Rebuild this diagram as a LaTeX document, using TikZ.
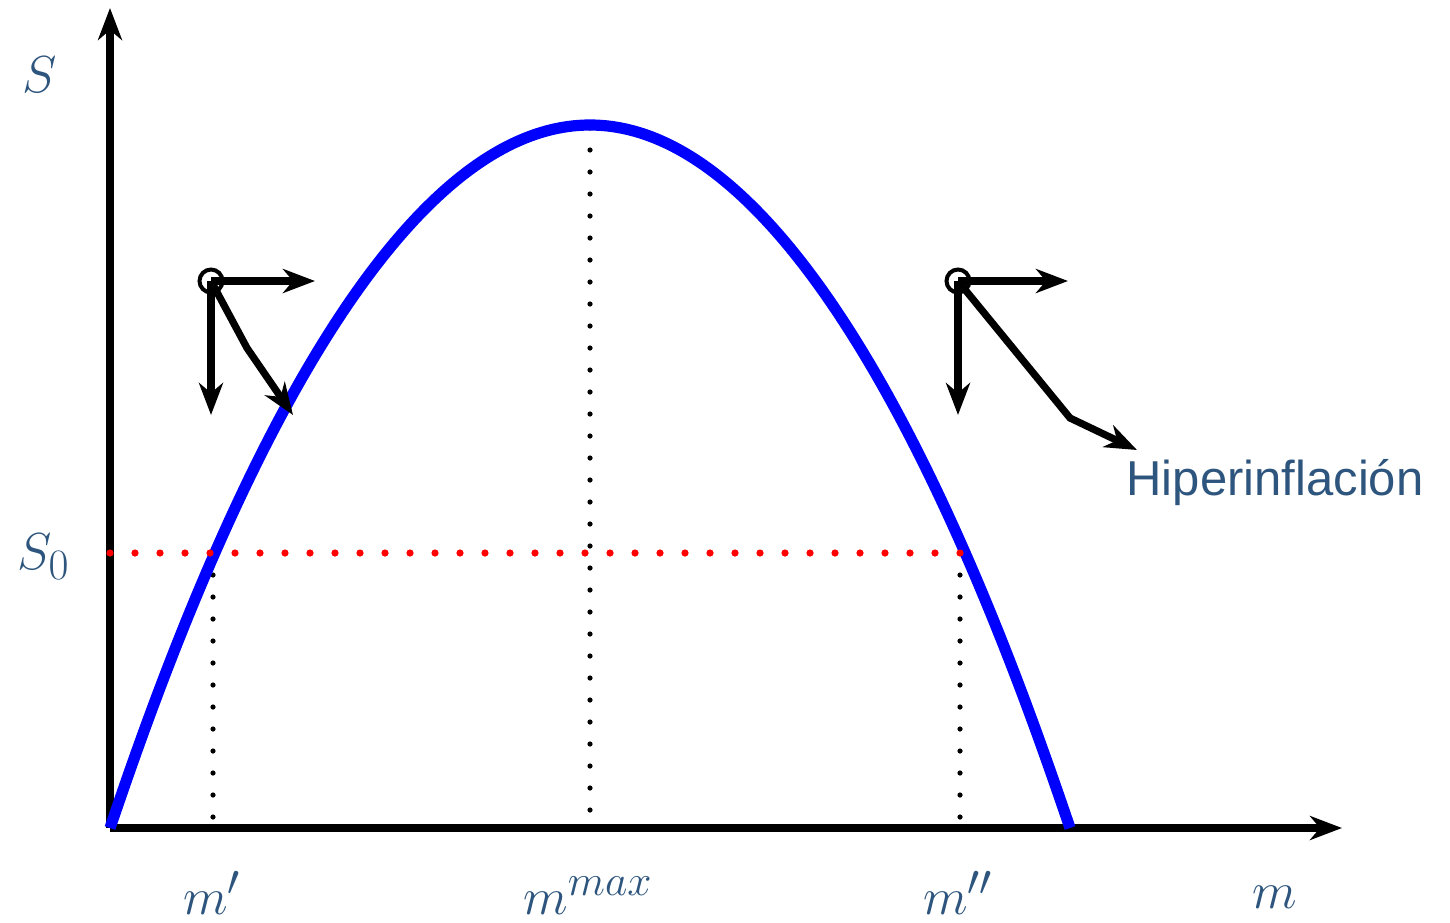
\documentclass[tikz,border=0pt]{standalone}
\usepackage{fontspec}
\newfontfamily\labfont{Liberation Sans}
\usetikzlibrary{arrows.meta}
\definecolor{labcol}{RGB}{45,85,125}
\tikzset{
  axisline/.style={line width=3.6pt,-{Stealth[length=16pt,width=12pt,inset=5pt]}},
  vecarrow/.style={line width=3.6pt,-{Stealth[length=16pt,width=12pt,inset=5pt]}},
  curveline/.style={blue,line width=5.6pt},
  blackdots/.style={line width=2.6pt,line cap=round,dash pattern=on 0pt off 11pt},
  reddots/.style={red,line width=3.6pt,line cap=round,dash pattern=on 0pt off 12.5pt},
  marker/.style={circle,draw,line width=2pt,minimum size=11.5pt,inner sep=0pt},
  mathlab/.style={text=labcol,inner sep=0pt,font=\fontsize{24.88}{30}\selectfont},
  textlab/.style={text=labcol,font=\labfont\fontsize{24.5}{28}\selectfont}
}
\newcommand{\scaledmath}[1]{\scalebox{1.045}{$#1$}}
\begin{document}
\begin{tikzpicture}[x=0.5pt,y=-0.5pt]
\useasboundingbox (0,0) rectangle (1450,922);
% coordinates
\coordinate (O) at (110,828);
\coordinate (ytop) at (110,8);
\coordinate (xend) at (1342,828);
\coordinate (peak) at (590,125);
\coordinate (xzero) at (1070,828);
\coordinate (s0l) at (110,553);
\coordinate (p1) at (213,553);
\coordinate (p2) at (960,553);
\coordinate (p1b) at (213,828);
\coordinate (p2b) at (960,828);
\coordinate (pkb) at (590,828);
\coordinate (pkt) at (590,128);
% dotted guides
\draw[blackdots] (p1) -- (p1b);
\draw[blackdots] (p2) -- (p2b);
\draw[blackdots] (pkt) -- (pkb);
% axes
\draw[axisline] (O) -- (ytop);
\draw[axisline] (O) -- (xend);
% curve
\draw[curveline] (O) parabola bend (peak) (xzero);
\draw[reddots] (s0l) -- (p2);
% left vectors
\node[marker] (c1) at (211,281) {};
\coordinate (c1r) at (315,281);
\coordinate (c1d) at (211,415);
\coordinate (c1m) at (247,348);
\coordinate (c1e) at (293,415);
\draw[vecarrow] (c1.center) -- (c1r);
\draw[vecarrow] (c1.center) -- (c1d);
\draw[vecarrow] (c1.center) -- (c1m) -- (c1e);
% right vectors
\node[marker] (c2) at (958,281) {};
\coordinate (c2r) at (1068,281);
\coordinate (c2d) at (958,415);
\coordinate (c2m) at (1070,418);
\coordinate (c2e) at (1137,450);
\draw[vecarrow] (c2.center) -- (c2r);
\draw[vecarrow] (c2.center) -- (c2d);
\draw[vecarrow] (c2.center) -- (c2m) -- (c2e);
% labels
\node[mathlab,anchor=base] (lS) at (40,92) {\scaledmath{S}};
\node[mathlab,anchor=base west] (lS0) at (17,569) {\scaledmath{S_0}};
\node[mathlab,anchor=base] (lm1) at (212,914) {\scaledmath{m'}};
\node[mathlab,anchor=base] (lmmax) at (588,914) {\scaledmath{m^{max}}};
\node[mathlab,anchor=base] (lm2) at (958,914) {\scaledmath{m''}};
\node[mathlab,anchor=base] (lm) at (1275,908) {\scaledmath{m}};
\node[textlab] (hip) at (1275,483) {Hiperinflación};
\end{tikzpicture}
\end{document}
